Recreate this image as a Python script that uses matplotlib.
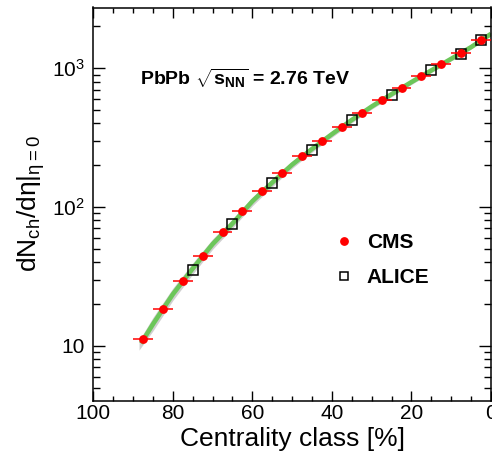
import numpy as np
import matplotlib
matplotlib.use("Agg")
import matplotlib.pyplot as plt
from matplotlib.ticker import FixedLocator, LogLocator, FuncFormatter, NullFormatter
from matplotlib.lines import Line2D

plt.rcParams['font.family'] = ['Liberation Sans', 'DejaVu Sans']
plt.rcParams['mathtext.fontset'] = 'custom'
plt.rcParams['mathtext.rm'] = 'Liberation Sans'
plt.rcParams['mathtext.it'] = 'Liberation Sans:italic'
plt.rcParams['mathtext.bf'] = 'Liberation Sans:bold'
plt.rcParams['mathtext.sf'] = 'Liberation Sans'

# ---- data ----
cms_x = [87.5, 82.5, 77.5, 72.5, 67.5, 62.5, 57.5, 52.5, 47.5, 42.5,
         37.5, 32.5, 27.5, 22.5, 17.5, 12.5, 7.5, 2.5]
cms_xerr = [2.5] * 18
cms_y = [11.1, 18.5, 29.2, 44.4, 65.6, 93.6, 129.5, 176.5, 232.8, 298.5,
         376, 477, 591, 725, 885, 1079, 1295, 1598]

alice_x = [75, 65, 55, 45, 35, 25, 15, 7.5, 2.5]
alice_y = [35.0, 75.5, 150, 258, 425, 643, 968, 1262, 1600]

curve_x = [88.0, 85, 80, 75, 70, 65, 60, 55, 50, 45, 40, 35, 30, 25, 20, 15, 10, 5, 0]
curve_y = [10.4, 14.3, 23.5, 36, 54, 76, 110, 150, 202, 262, 335, 424, 530, 650, 795, 965, 1170, 1420, 1770]

band_x = [88.5, 85, 80, 75, 70, 65, 60, 55, 50, 45, 40, 35, 30, 25, 20, 15, 10, 5, 0]
band_lo = [9.3, 12.8, 21.2, 32.8, 49.6, 70.5, 102, 140, 190, 248, 318, 404, 507, 623, 764, 930, 1130, 1375, 1715]
band_hi = [10.9, 16.0, 26.0, 39.5, 58.8, 82.0, 118, 160, 214, 276, 352, 444, 553, 677, 826, 1000, 1210, 1465, 1825]

fig = plt.figure(figsize=(4.92, 4.62), dpi=100)
ax = fig.add_axes([93.3 / 492, 1 - 400.5 / 462, (491.0 - 93.3) / 492, (400.5 - 7.5) / 462])

ax.set_yscale('log')
ax.set_xlim(100, 0)
ax.set_ylim(4.03, 2740)

ax.fill_between(band_x, band_lo, band_hi, color='#c4c4c4', alpha=0.8, lw=0, zorder=1)
ax.plot(curve_x, curve_y, color='#6cc65a', lw=3.3, solid_capstyle='butt', zorder=2)
ax.plot(alice_x, alice_y, ls='none', marker='s', ms=7.2, mfc='none', mec='black',
        mew=1.1, zorder=3)
ax.errorbar(cms_x, cms_y, xerr=cms_xerr, fmt='o', color='#ff0000', ms=5.3,
            elinewidth=1.1, capsize=0, zorder=4)

# ticks
ax.xaxis.set_major_locator(FixedLocator([100, 80, 60, 40, 20, 0]))
ax.xaxis.set_minor_locator(FixedLocator(np.arange(0, 101, 5)))
ax.yaxis.set_major_locator(LogLocator(base=10, subs=(1.0,)))
ax.yaxis.set_minor_locator(LogLocator(base=10, subs=np.arange(2, 10), numticks=20))
ax.yaxis.set_minor_formatter(NullFormatter())


def yfmt(v, pos):
    n = int(round(np.log10(v)))
    if n == 1:
        return '10'
    return r'$10^{%d}$' % n


ax.yaxis.set_major_formatter(FuncFormatter(yfmt))
ax.xaxis.set_major_formatter(FuncFormatter(lambda v, p: '%d' % round(v)))

ax.tick_params(axis='both', which='both', direction='in', top=True, right=True,
               width=1.0, labelsize=15, colors='black')
ax.tick_params(axis='x', which='major', length=7.2, pad=2.5)
ax.tick_params(axis='x', which='minor', length=3.6)
ax.tick_params(axis='y', which='major', length=8.6, pad=6)
ax.tick_params(axis='y', which='minor', length=4.8)
for s in ax.spines.values():
    s.set_linewidth(1.1)

ax.set_xlabel('Centrality class [%]', fontsize=19, labelpad=3)
ax.set_ylabel(r'dN$_{\rm ch}$/dη|$_{\rm η=0}$', fontsize=19, labelpad=4)

ax.text(0.1175, (400.5 - 78) / 393,
        r'PbPb $\mathbf{\sqrt{s_{NN}}}$ = 2.76 TeV', transform=ax.transAxes,
        fontsize=14, fontweight='bold', va='center', ha='left')

handles = [Line2D([], [], ls='none', marker='o', color='#ff0000', ms=5.3),
           Line2D([], [], ls='none', marker='s', ms=5.8, mfc='none', mec='black', mew=1.1)]
ax.legend(handles, ['CMS', 'ALICE'], loc='center left',
          bbox_to_anchor=((322.9 - 93.3) / 397.7, (400.5 - 260) / 393),
          frameon=False, handlelength=1.0, handletextpad=0.6, borderpad=0,
          labelspacing=0.78, prop={'size': 15, 'weight': 'bold'})

fig.savefig('out.png', dpi=100)
